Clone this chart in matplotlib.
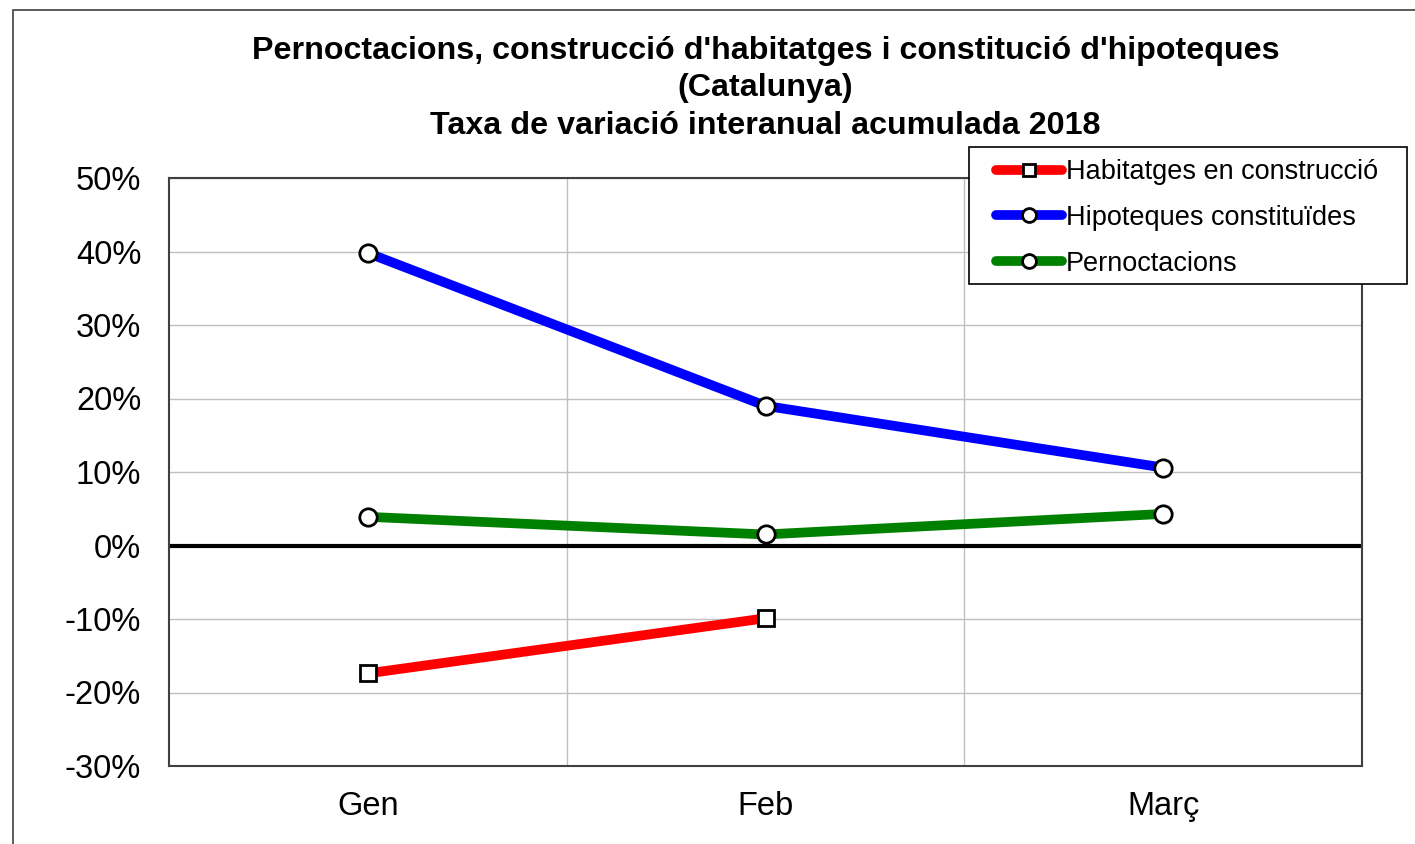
import matplotlib.pyplot as plt
import matplotlib.patches as patches
from matplotlib.ticker import FuncFormatter

plt.rcParams['font.family'] = ['Liberation Sans', 'DejaVu Sans']

# === Data ===
months = ["Gen", "Feb", "Març"]
habitatges = [-17.4, -9.9]
hipoteques = [39.8, 19.0, 10.6]
pernoctacions = [3.9, 1.5, 4.3]

W, H = 1415, 844
fig = plt.figure(figsize=(W / 100, H / 100), dpi=100)
ax = fig.add_axes([169 / W, 1 - 766 / H, (1362 - 169) / W, (766 - 178) / H])

# outer frame of the chart area
fig.patches.append(patches.Rectangle((13 / W, -0.05), 1.1, 1 - 10 / H + 0.05,
                                     transform=fig.transFigure, fill=False,
                                     edgecolor="#404040", linewidth=1.2))

x = list(range(len(months)))

ax.axhline(0, color="black", linewidth=3, zorder=2)

style = dict(linewidth=7, markerfacecolor="white", markeredgecolor="black",
             markeredgewidth=2, solid_capstyle="round", zorder=3)
ax.plot(x[:len(habitatges)], habitatges, color="#ff0000", marker="s",
        markersize=11.5, label="Habitatges en construcció", **style)
ax.plot(x, hipoteques, color="#0000ff", marker="o", markersize=12.5,
        label="Hipoteques constituïdes", **style)
ax.plot(x, pernoctacions, color="#008000", marker="o", markersize=12.5,
        label="Pernoctacions", **style)

ax.set_xlim(-0.5, 2.5)
ax.set_ylim(-30, 50)
ax.set_yticks(range(-30, 51, 10))
ax.yaxis.set_major_formatter(FuncFormatter(lambda v, p: f"{v:.0f}%"))
ax.set_xticks(x)
ax.set_xticklabels(months)
ax.set_xticks([0.5, 1.5], minor=True)

ax.grid(axis="y", which="major", color="#c0c0c0", linewidth=1)
ax.grid(axis="x", which="minor", color="#c0c0c0", linewidth=1)
ax.set_axisbelow(True)
ax.tick_params(axis="both", which="both", length=0, labelsize=23.5)
ax.tick_params(axis="y", pad=20)
ax.tick_params(axis="x", pad=18)
for s in ax.spines.values():
    s.set_color("#404040")
    s.set_linewidth(1.5)

fig.text(0.541, 1 - 36 / H,
         "Pernoctacions, construcció d'habitatges i constitució d'hipoteques\n(Catalunya)\n"
         "Taxa de variació interanual acumulada 2018",
         ha="center", va="top", fontsize=23.2, fontweight="bold",
         linespacing=1.32, transform=fig.transFigure)

# legend box drawn by hand, entries placed inside it
fig.patches.append(patches.Rectangle((969 / W, 1 - 284 / H), (1407 - 969) / W, (284 - 147) / H,
                                     transform=fig.transFigure, fill=True, facecolor="white",
                                     edgecolor="black", linewidth=1.2, zorder=5))
leg = fig.legend(loc="upper left", bbox_to_anchor=(996 / W, 1 - 159 / H),
                 fontsize=19.5, frameon=False, handlelength=2.45, markerscale=0.8,
                 handletextpad=0.12, labelspacing=0.73, borderpad=0,
                 borderaxespad=0)
leg.set_zorder(6)

fig.savefig("out.png", dpi=100)
